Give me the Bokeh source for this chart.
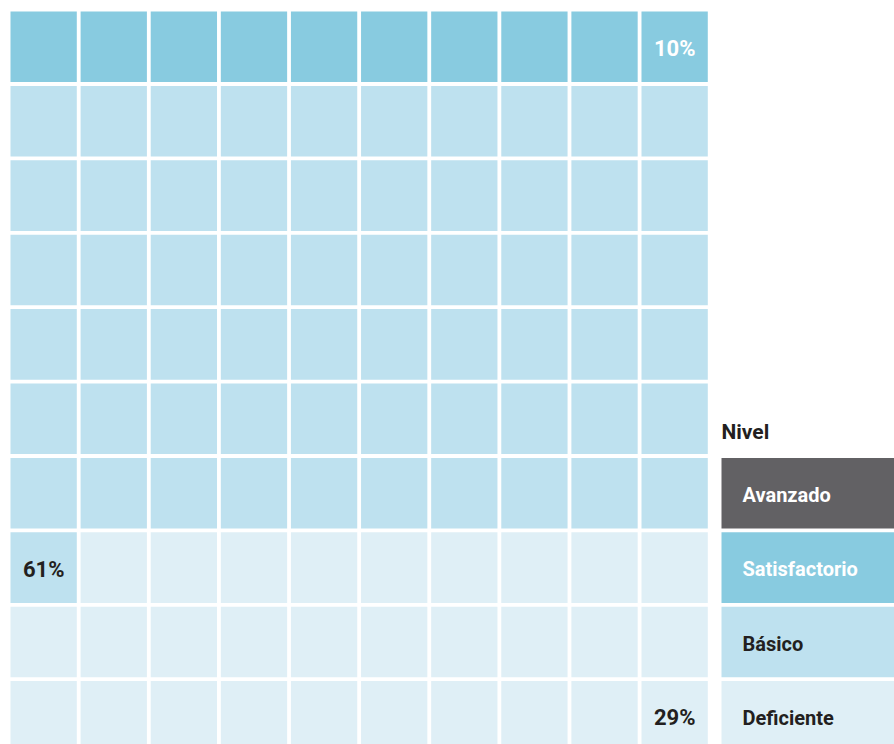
from bokeh.plotting import figure
from bokeh.models import Range1d, ColumnDataSource
from bokeh.core.properties import value
from bokeh.embed import file_html
from bokeh.resources import INLINE

# ---- data ----
levels = ["Avanzado", "Satisfactorio", "Básico", "Deficiente"]
percents = [0, 10, 61, 29]
level_colors = ["#626164", "#88CBE0", "#BEE1EF", "#DFEFF6"]
label_colors = ["#FFFFFF", "#FFFFFF", "#231F20", "#231F20"]
legend_title = "Nivel"

# ---- layout (pixels, page coordinates) ----
W, H = 894, 744
X0, Y0 = 10.0, 11.0
PX, PY = 70.11, 74.4
CW, CH = 66.3, 70.6
NCOL, NROW = 10, 10
FONT = value("Roboto")

# fill order: from bottom row upward, right to left within a row,
# starting with the last level in the list (Deficiente)
cells = {"l": [], "r": [], "t": [], "b": [], "c": []}
labels = {"x": [], "y": [], "t": [], "c": []}
k = 0
for lvl in reversed(range(len(levels))):
    n = percents[lvl]
    for j in range(n):
        row_from_bottom = k // NCOL
        col = NCOL - 1 - (k % NCOL)
        r = NROW - 1 - row_from_bottom
        left = X0 + col * PX
        top = Y0 + r * PY
        cells["l"].append(left)
        cells["r"].append(left + CW)
        cells["t"].append(top)
        cells["b"].append(top + CH)
        cells["c"].append(level_colors[lvl])
        if j == 0:
            labels["x"].append(left + CW / 2)
            labels["y"].append(top + CH / 2 + 1.5)
            labels["t"].append(f"{n}%")
            labels["c"].append(label_colors[lvl])
        k += 1

p = figure(width=W, height=H, output_backend="svg", toolbar_location=None,
           x_range=Range1d(0, W), y_range=Range1d(H, 0),
           min_border=0, x_axis_location=None, y_axis_location=None)
p.grid.visible = False
p.outline_line_color = None
p.background_fill_color = "white"
p.border_fill_color = "white"

p.quad(left="l", right="r", top="t", bottom="b", fill_color="c",
       line_color=None, source=ColumnDataSource(cells))
p.text(x="x", y="y", text="t", text_color="c", source=ColumnDataSource(labels),
       text_font=FONT, text_font_style="bold", text_font_size="22px",
       text_align="center", text_baseline="middle")

# ---- legend ----
LX = 721.0
LW = 190.0
leg = {"l": [], "r": [], "t": [], "b": [], "c": [], "tx": [], "ty": [], "txt": [], "tc": []}
for i, name in enumerate(levels):
    r = NROW - len(levels) + i
    top = Y0 + r * PY
    leg["l"].append(LX)
    leg["r"].append(LX + LW)
    leg["t"].append(top)
    leg["b"].append(top + CH)
    leg["c"].append(level_colors[i])
    leg["tx"].append(LX + 21)
    leg["ty"].append(top + CH / 2 + 1.5)
    leg["txt"].append(name)
    leg["tc"].append(label_colors[i])
lsrc = ColumnDataSource(leg)
p.quad(left="l", right="r", top="t", bottom="b", fill_color="c",
       line_color=None, source=lsrc)
p.text(x="tx", y="ty", text="txt", text_color="tc", source=lsrc,
       text_font=FONT, text_font_style="bold", text_font_size="20px",
       text_align="left", text_baseline="middle")
title_y = Y0 + (NROW - len(levels)) * PY - 26
p.text(x=[LX], y=[title_y], text=[legend_title], text_color="#231F20",
       text_font=FONT, text_font_style="bold", text_font_size="21px",
       text_align="left", text_baseline="middle")

open("out.html", "w").write(file_html(p, INLINE))
